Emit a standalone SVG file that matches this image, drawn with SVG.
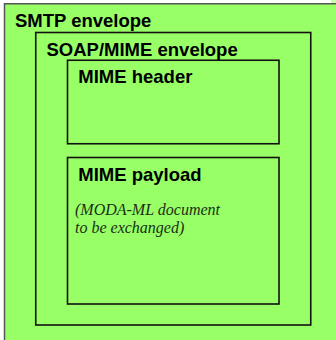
<svg xmlns="http://www.w3.org/2000/svg" width="336" height="340" viewBox="0 0 336 340">
<style>
.box{fill:#99ff66;stroke:#111;stroke-width:1.6}
.outer{fill:#99ff66;stroke:#555;stroke-width:1.5}
.h{font-family:"Liberation Sans",Arial,sans-serif;font-weight:bold;font-size:18.5px;fill:#000}
.it{font-family:"Liberation Serif","Times New Roman",serif;font-style:italic;font-size:16px;fill:#1a2e14}
</style>
<rect x="0" y="0" width="336" height="340" fill="#ffffff"/>
<rect x="331" y="0" width="5" height="4" fill="#c6ffa8"/>
<g id="smtp">
<rect class="outer" x="4.5" y="3.75" width="340" height="345"/>
<text class="h" x="15" y="27.3">SMTP envelope</text>
</g>
<g id="soap">
<rect class="box" x="35.75" y="32.5" width="275" height="292.5"/>
<text class="h" x="46.5" y="55.7">SOAP/MIME envelope</text>
</g>
<g id="mime-header">
<rect class="box" x="67.5" y="60.25" width="211.5" height="83.5"/>
<text class="h" x="78.3" y="83.3">MIME header</text>
</g>
<g id="mime-payload">
<rect class="box" x="67.5" y="157.5" width="211.5" height="146.5"/>
<text class="h" x="78.3" y="180.7">MIME payload</text>
<text class="it" x="75" y="215">(MODA-ML document</text>
<text class="it" x="75" y="233.3">to be exchanged)</text>
</g>
<g id="connectors"/>
</svg>
